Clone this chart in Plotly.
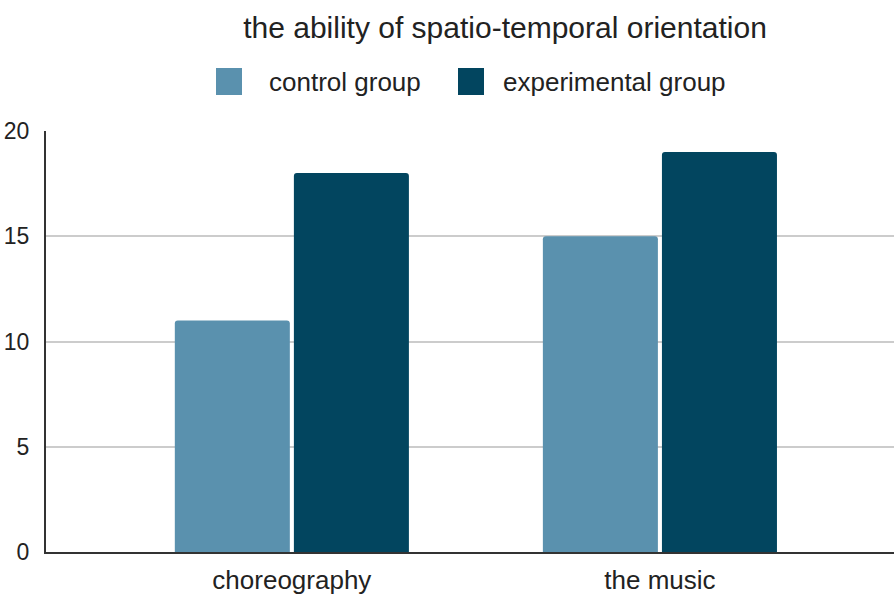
import plotly.graph_objects as go

categories = ["choreography", "the music"]
series_names = ["control group", "experimental group"]
control_values = [11, 15]
experimental_values = [18, 19]
colors = ["#5a91ae", "#02455f"]
y_ticks = [0, 5, 10, 15, 20]

W, H = 894, 596
ml, mr, mt, mb = 46, 0, 131, 44
pw, ph = W - ml - mr, H - mt - mb

def px_x(p):
    return (p - ml) / pw

def px_y(p):
    return (H - mb - p) / ph

fig = go.Figure()
for name, vals, col in zip(series_names, [control_values, experimental_values], colors):
    fig.add_trace(go.Bar(x=categories, y=vals, name=name, marker=dict(color=col, line=dict(width=0)),
                         showlegend=False))

font_family = "Liberation Sans, Arial, sans-serif"

# manual legend (swatches + labels)
legend_items = [(216, 267), (458, 501)]
for (sx, tx), name, col in zip(legend_items, series_names, colors):
    fig.add_shape(type="rect", xref="paper", yref="paper",
                  x0=px_x(sx), x1=px_x(sx + 26), y0=px_y(95), y1=px_y(68),
                  fillcolor=col, line=dict(width=0), layer="above")
    fig.add_annotation(xref="paper", yref="paper", x=px_x(tx), y=px_y(82),
                       text=name, showarrow=False, xanchor="left", yanchor="middle",
                       font=dict(size=26, color="#222222", family=font_family))

fig.update_layout(
    width=W, height=H,
    margin=dict(l=ml, r=mr, t=mt, b=mb),
    paper_bgcolor="white", plot_bgcolor="white",
    barmode="group", bargap=0.353, bargroupgap=0.034, barcornerradius=3,
    font=dict(family=font_family, color="#222222"),
    title=dict(text="the ability of spatio-temporal orientation", x=505 / W, xref="container",
               xanchor="center", y=1 - 27 / H, yref="container", yanchor="middle",
               font=dict(size=30, color="#222222", family=font_family)),
    xaxis=dict(range=[-0.668, 1.636], showline=True, linecolor="#333333", linewidth=2,
               showgrid=False, ticks="", tickfont=dict(size=26, color="#222222"),
               ticklabelstandoff=4, zeroline=False, automargin=False),
    yaxis=dict(range=[0, 20], tickvals=y_ticks, showline=True, linecolor="#333333", linewidth=2,
               showgrid=True, gridcolor="#cccccc", gridwidth=1.5, zeroline=False,
               tickfont=dict(size=23, color="#222222"), ticklabelstandoff=10, ticks="",
               automargin=False),
)

fig.write_html("out.html", config={"displayModeBar": False},
               post_script="document.body.style.margin='0';document.body.style.overflow='hidden';")
